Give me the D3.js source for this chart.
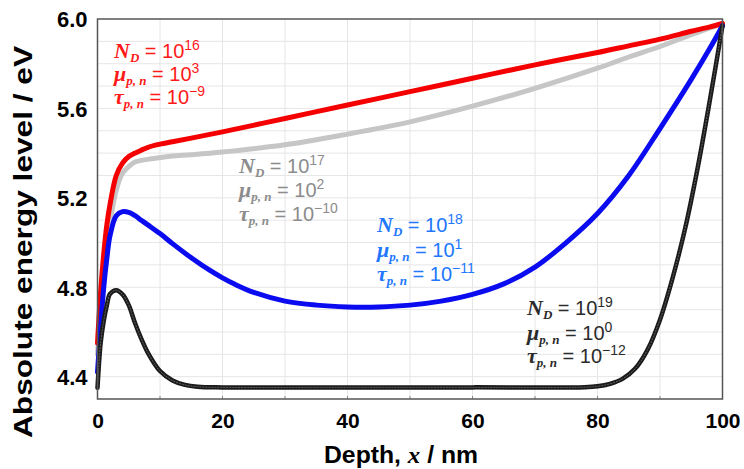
<!DOCTYPE html>
<html>
<head>
<meta charset="utf-8">
<script src="https://cdn.jsdelivr.net/npm/d3@7"></script>
<style>
  html, body { margin: 0; padding: 0; background: #fff; }
  svg { display: block; }
</style>
</head>
<body>
<svg id="chart" width="744" height="469"></svg>
<script>
// ---------------- DATA ----------------
const depthA = [0, 0.5, 1, 1.5, 2, 3, 4, 5, 6, 8, 10, 12, 15, 20, 30, 40, 50, 60, 70, 80, 85, 90, 95, 98, 100];
const redE   = [4.55, 4.78, 4.95, 5.08, 5.17, 5.30, 5.355, 5.385, 5.40, 5.425, 5.44, 5.451, 5.467, 5.495, 5.555, 5.615, 5.675, 5.735, 5.795, 5.85, 5.88, 5.91, 5.945, 5.965, 5.98];
const grayE  = [4.50, 4.70, 4.88, 5.00, 5.09, 5.235, 5.31, 5.34, 5.36, 5.372, 5.38, 5.387, 5.393, 5.405, 5.437, 5.485, 5.54, 5.61, 5.69, 5.78, 5.83, 5.877, 5.93, 5.96, 5.98];
const depthB = [0, 0.5, 1, 1.5, 2, 3, 4, 5, 6, 7, 8, 10, 12, 15, 18, 20, 22, 25, 30, 35, 40, 45, 50, 55, 60, 65, 70, 75, 80, 85, 90, 95, 98, 100];
const blueE  = [4.42, 4.62, 4.80, 4.93, 5.03, 5.12, 5.138, 5.135, 5.12, 5.10, 5.08, 5.04, 4.995, 4.932, 4.875, 4.842, 4.813, 4.777, 4.738, 4.72, 4.712, 4.712, 4.72, 4.738, 4.768, 4.815, 4.89, 5.00, 5.13, 5.30, 5.51, 5.73, 5.87, 5.97];
const depthK = [0, 0.5, 1, 1.5, 2, 3, 4, 5, 6, 7, 8, 10, 12, 14, 16, 20, 40, 60, 78, 80, 82, 84, 86, 88, 90, 92, 94, 96, 98, 100];
const blackE = [4.35, 4.55, 4.65, 4.72, 4.77, 4.787, 4.768, 4.72, 4.64, 4.57, 4.51, 4.425, 4.383, 4.363, 4.355, 4.352, 4.352, 4.352, 4.353, 4.357, 4.368, 4.39, 4.435, 4.52, 4.655, 4.84, 5.06, 5.33, 5.64, 5.97];

const xTicks = [0, 20, 40, 60, 80, 100];
const yTicks = [4.4, 4.8, 5.2, 5.6, 6.0];
const xTitle = ["Depth, ", "x", " / nm"];
const yTitle = "Absolute energy level / eV";

const labelRed   = [["N", "D", "16"], ["μ", "p, n", "3"], ["τ", "p, n", "−9"]];
const labelGray  = [["N", "D", "17"], ["μ", "p, n", "2"], ["τ", "p, n", "−10"]];
const labelBlue  = [["N", "D", "18"], ["μ", "p, n", "1"], ["τ", "p, n", "−11"]];
const labelBlack = [["N", "D", "19"], ["μ", "p, n", "0"], ["τ", "p, n", "−12"]];

// ---------------- CHART ----------------
const svg = d3.select("#chart");
const L = 97.5, R = 722.5, T = 19, B = 399;
const x = d3.scaleLinear().domain([0, 100]).range([L, R]);
const y = d3.scaleLinear().domain([4.3, 6.0]).range([B, T]);

const sans = "'Liberation Sans', Arial, Helvetica, sans-serif";
const serif = "'Liberation Serif', 'Times New Roman', serif";

// grid
const grid = svg.append("g");
grid.selectAll("line.gx").data(d3.range(10, 100, 10)).join("line")
  .attr("x1", d => x(d)).attr("x2", d => x(d)).attr("y1", T).attr("y2", B)
  .attr("stroke", "#e6e6e6").attr("stroke-width", 1);
grid.selectAll("line.gy").data(d3.range(44, 60, 1).map(v => v / 10)).join("line")
  .attr("x1", L).attr("x2", R).attr("y1", d => y(d)).attr("y2", d => y(d))
  .attr("stroke", "#e6e6e6").attr("stroke-width", 1);

// axes
const xAxis = d3.axisBottom(x).tickValues(xTicks).tickSize(0).tickPadding(14).tickFormat(d3.format("d"));
const yAxis = d3.axisLeft(y).tickValues(yTicks).tickSize(0).tickPadding(10).tickFormat(d3.format(".1f"));
const gx = svg.append("g").attr("transform", `translate(0,${B})`).call(xAxis);
const gy = svg.append("g").attr("transform", `translate(${L},0)`).call(yAxis);
[gx, gy].forEach(g => {
  g.select(".domain").remove();
  g.selectAll("text").attr("font-family", sans).attr("font-weight", "bold")
    .attr("font-size", 21).attr("fill", "#000");
});
gy.selectAll("text").attr("font-size", 22).attr("dy", "0.36em");

// small inner ticks on bottom
svg.append("g").selectAll("line").data(d3.range(10, 100, 10)).join("line")
  .attr("x1", d => x(d)).attr("x2", d => x(d)).attr("y1", B).attr("y2", B - 3)
  .attr("stroke", "#888").attr("stroke-width", 1);

// curves
const line = d3.line().curve(d3.curveCatmullRom.alpha(0.5));
function curve(xs, ys, color, w) {
  return svg.append("path")
    .attr("d", line(xs.map((d, i) => [x(d), y(ys[i])])))
    .attr("fill", "none").attr("stroke", color).attr("stroke-width", w)
    .attr("stroke-linejoin", "round").attr("stroke-linecap", "round");
}
curve(depthA, grayE, "#c6c6c6", 5);
curve(depthA, redE, "#f50000", 5);
curve(depthB, blueE, "#0b0bf0", 5);
curve(depthK, blackE, "#1a1a1a", 4.5);
curve(depthK, blackE, "#666", 1).attr("stroke-dasharray", "1.2 1.8");

// frame
svg.append("rect").attr("x", L).attr("y", T).attr("width", R - L).attr("height", B - T)
  .attr("fill", "none").attr("stroke", "#555").attr("stroke-width", 1.5);

// axis titles
const xt = svg.append("text").attr("x", 401).attr("y", 463)
  .attr("text-anchor", "middle").attr("font-family", sans).attr("font-weight", "bold")
  .attr("font-size", 23).attr("fill", "#000")
  .attr("textLength", 154).attr("lengthAdjust", "spacingAndGlyphs");
xt.append("tspan").text(xTitle[0]);
xt.append("tspan").text(xTitle[1]).attr("font-family", serif).attr("font-style", "italic");
xt.append("tspan").text(xTitle[2]);

svg.append("text").attr("transform", `translate(32,242) rotate(-90)`)
  .attr("text-anchor", "middle").attr("font-family", sans).attr("font-weight", "bold")
  .attr("font-size", 26).attr("fill", "#000")
  .attr("textLength", 392).attr("lengthAdjust", "spacingAndGlyphs").text(yTitle);

// annotations
function annot(lines, x0, ys, color) {
  lines.forEach((ln, i) => {
    const t = svg.append("text").attr("x", x0).attr("y", ys[i]).attr("fill", color);
    t.append("tspan").text(ln[0]).attr("font-family", serif).attr("font-style", "italic")
      .attr("font-weight", "bold").attr("font-size", 22);
    t.append("tspan").text(ln[1]).attr("font-family", serif).attr("font-style", "italic")
      .attr("font-weight", "bold").attr("font-size", 13).attr("dy", 4);
    t.append("tspan").text(" = 10").attr("font-family", sans).attr("font-size", 20).attr("dy", -4);
    t.append("tspan").text(ln[2]).attr("font-family", sans).attr("font-size", 14).attr("dy", -8);
  });
}
annot(labelRed, 114, [58, 81, 104], "#ff1a1a");
annot(labelGray, 239, [173, 197, 221], "#8c8c8c");
annot(labelBlue, 377, [232, 257, 281], "#2277ff");
annot(labelBlack, 527, [315, 340, 363], "#2b2b2b");
</script>
</body>
</html>
